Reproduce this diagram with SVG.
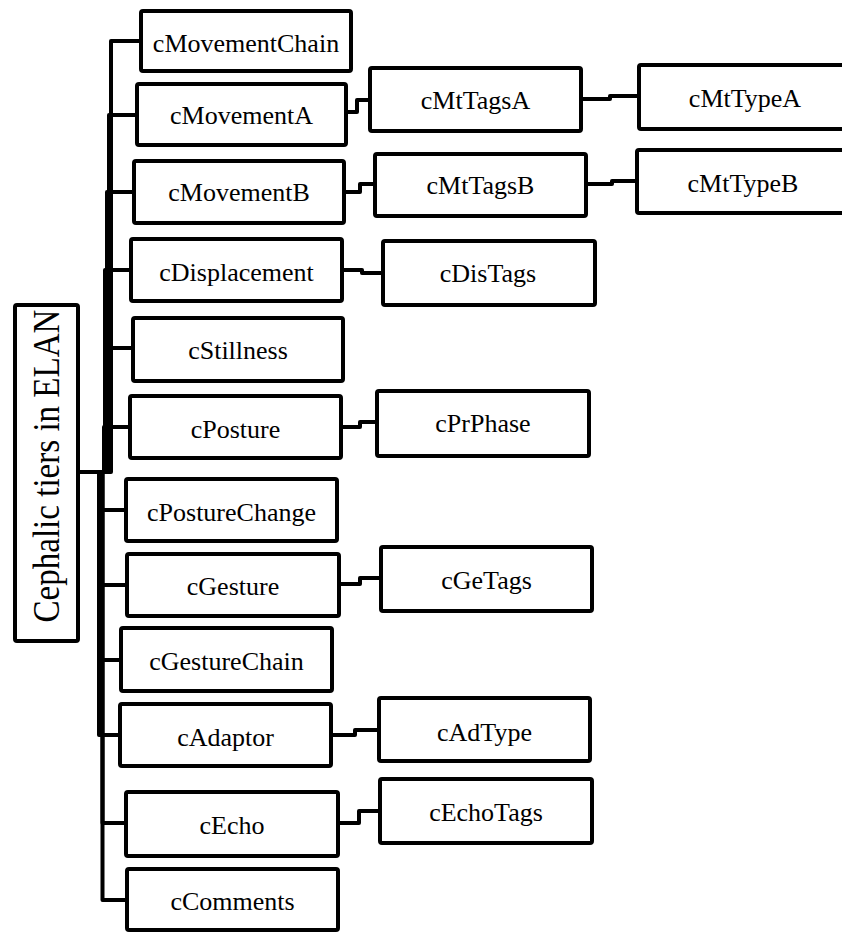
<svg xmlns="http://www.w3.org/2000/svg" width="842" height="933" viewBox="0 0 842 933">
<style>
.box{fill:#fff;stroke:#000;stroke-width:4;}
.lbl{font-family:"Liberation Serif","Times New Roman",serif;font-size:26px;fill:#000;text-anchor:middle;}
.root{font-family:"Liberation Serif","Times New Roman",serif;font-size:37px;fill:#000;text-anchor:middle;}
.con path{fill:none;stroke:#000;stroke-width:4;stroke-linejoin:round;stroke-linecap:butt;}
</style>
<rect width="842" height="933" fill="#fff"/>
<g id="connectors" class="con">
<path d="M78 472H111V41H141"/>
<path d="M78 472H109V115H137"/>
<path d="M78 472H107V192H134"/>
<path d="M78 472H105V270H131"/>
<path d="M78 472H105V348H133"/>
<path d="M78 472H104V427H130"/>
<path d="M78 472H99V510H126"/>
<path d="M78 472H100V585H127"/>
<path d="M78 472H100V660H121"/>
<path d="M78 472H99V735H120"/>
<path d="M78 472H102.5V823H126"/>
<path d="M78 472H102.5V900H127"/>
<path d="M346 112H357V100H370"/>
<path d="M581 99H610V96H639"/>
<path d="M344 192H360V184H375"/>
<path d="M586 184H612V181H637"/>
<path d="M342 270H362V273H383"/>
<path d="M341 427H360V422H377"/>
<path d="M339 584H360V578H381"/>
<path d="M331 735H355V730H379"/>
<path d="M338 823H359V811H380"/>
</g>
<g id="root"><rect class="box" x="15" y="305" width="63" height="336" rx="2"/><text class="root" transform="translate(59,466) rotate(-90)" textLength="313" lengthAdjust="spacingAndGlyphs">Cephalic  tiers in ELAN</text></g>
<g id="cMovementChain"><rect class="box" x="141" y="11" width="210" height="60" rx="2"/><text class="lbl" x="246" y="52">cMovementChain</text></g>
<g id="cMovementA"><rect class="box" x="137" y="84" width="209" height="61" rx="2"/><text class="lbl" x="241.5" y="124">cMovementA</text></g>
<g id="cMovementB"><rect class="box" x="134" y="161" width="210" height="62" rx="2"/><text class="lbl" x="239" y="201">cMovementB</text></g>
<g id="cDisplacement"><rect class="box" x="131" y="239" width="211" height="62" rx="2"/><text class="lbl" x="236.5" y="280.5">cDisplacement</text></g>
<g id="cStillness"><rect class="box" x="133" y="318" width="210" height="63" rx="2"/><text class="lbl" x="238" y="358.5">cStillness</text></g>
<g id="cPosture"><rect class="box" x="130" y="396" width="211" height="62" rx="2"/><text class="lbl" x="235.5" y="437.5">cPosture</text></g>
<g id="cPostureChange"><rect class="box" x="126" y="479" width="211" height="62" rx="2"/><text class="lbl" x="231.5" y="520.5">cPostureChange</text></g>
<g id="cGesture"><rect class="box" x="127" y="554" width="212" height="62" rx="2"/><text class="lbl" x="233" y="594.5">cGesture</text></g>
<g id="cGestureChain"><rect class="box" x="121" y="628" width="211" height="63" rx="2"/><text class="lbl" x="226.5" y="669.5">cGestureChain</text></g>
<g id="cAdaptor"><rect class="box" x="120" y="704" width="211" height="62" rx="2"/><text class="lbl" x="225.5" y="745.5">cAdaptor</text></g>
<g id="cEcho"><rect class="box" x="126" y="792" width="212" height="64" rx="2"/><text class="lbl" x="232" y="833.5">cEcho</text></g>
<g id="cComments"><rect class="box" x="127" y="869" width="211" height="61" rx="2"/><text class="lbl" x="232.5" y="910">cComments</text></g>
<g id="cMtTagsA"><rect class="box" x="370" y="68" width="211" height="63" rx="2"/><text class="lbl" x="475.5" y="108.5">cMtTagsA</text></g>
<g id="cMtTypeA"><rect class="box" x="639" y="65" width="212" height="64" rx="2"/><text class="lbl" x="745" y="106.5">cMtTypeA</text></g>
<g id="cMtTagsB"><rect class="box" x="375" y="154" width="211" height="62" rx="2"/><text class="lbl" x="480.5" y="193.5">cMtTagsB</text></g>
<g id="cMtTypeB"><rect class="box" x="637" y="150" width="212" height="63" rx="2"/><text class="lbl" x="743" y="191.5">cMtTypeB</text></g>
<g id="cDisTags"><rect class="box" x="383" y="241" width="212" height="64" rx="2"/><text class="lbl" x="488" y="281.5">cDisTags</text></g>
<g id="cPrPhase"><rect class="box" x="377" y="391" width="212" height="65" rx="2"/><text class="lbl" x="483" y="431.5">cPrPhase</text></g>
<g id="cGeTags"><rect class="box" x="381" y="547" width="211" height="64" rx="2"/><text class="lbl" x="486.5" y="588.5">cGeTags</text></g>
<g id="cAdType"><rect class="box" x="379" y="698" width="211" height="63" rx="2"/><text class="lbl" x="484.5" y="740.5">cAdType</text></g>
<g id="cEchoTags"><rect class="box" x="380" y="779" width="212" height="64" rx="2"/><text class="lbl" x="486" y="820.5">cEchoTags</text></g>
</svg>
